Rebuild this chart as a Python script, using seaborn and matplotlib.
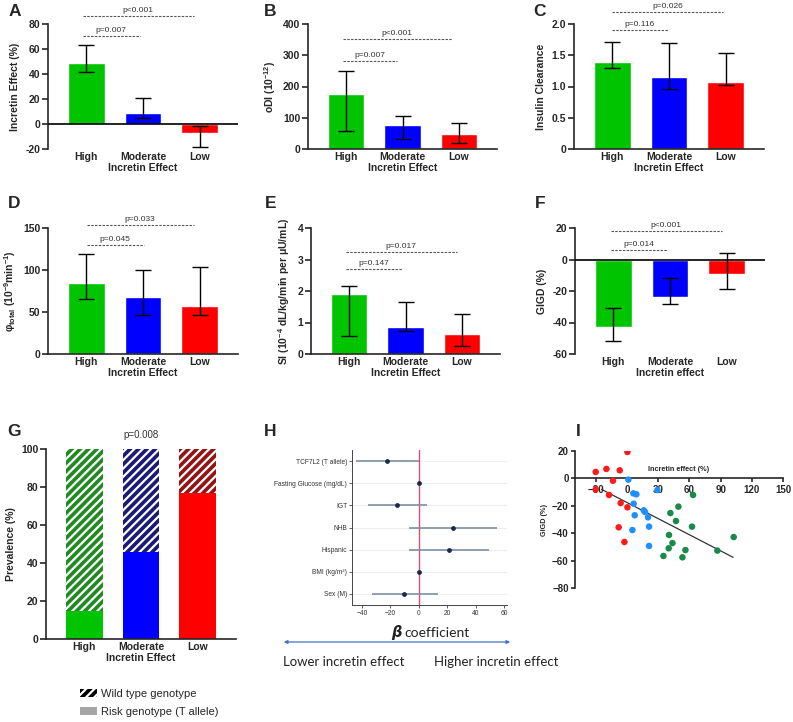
import numpy as np
import pandas as pd
import matplotlib
matplotlib.use('Agg')
import matplotlib.pyplot as plt
import seaborn as sns
from matplotlib.patches import Patch, FancyArrowPatch

sns.set_style('ticks')
plt.rcParams['font.family'] = ['Liberation Sans', 'DejaVu Sans']
plt.rcParams['mathtext.fontset'] = 'custom'
plt.rcParams['mathtext.rm'] = 'Liberation Sans:bold'
plt.rcParams['mathtext.it'] = 'Liberation Sans:bold'
plt.rcParams['mathtext.bf'] = 'Liberation Sans:bold'
plt.rcParams['hatch.linewidth'] = 1.6

# ---------------- data ----------------
groups = ['High', 'Moderate', 'Low']
bar_colors = ['#00c400', '#0000ff', '#ff0000']
wild_colors = ['#238a23', '#1a1a78', '#931414']

incretin_mean = [49, 9, -7]
incretin_lo = [42, 5, -18.5]
incretin_hi = [63, 20.5, -1.5]
incretin_p = ['p=0.007', 'p<0.001']

odi_mean = [176, 78, 49]
odi_lo = [57, 33, 18]
odi_hi = [250, 107, 84]
odi_p = ['p=0.007', 'p<0.001']

clear_mean = [1.40, 1.15, 1.07]
clear_lo = [1.29, 0.96, 1.02]
clear_hi = [1.71, 1.70, 1.54]
clear_p = ['p=0.116', 'p=0.026']

phi_mean = [84, 68, 57]
phi_lo = [65, 46, 46]
phi_hi = [119, 100, 104]
phi_p = ['p=0.045', 'p=0.033']

si_mean = [1.92, 0.85, 0.65]
si_lo = [0.56, 0.73, 0.25]
si_hi = [2.17, 1.66, 1.27]
si_p = ['p=0.147', 'p=0.017']

gigd_mean = [-43, -23.5, -9]
gigd_lo = [-52, -28.5, -18.5]
gigd_hi = [-31, -11.5, 4]
gigd_p = ['p=0.014', 'p<0.001']

risk_pct = [15, 46, 77]
total_pct = [100, 100, 100]
prev_p = 'p=0.008'

predictors = ['TCF7L2 (T allele)', 'Fasting Glucose (mg/dL)', 'IGT', 'NHB',
              'Hispanic', 'BMI (kg/m²)', 'Sex (M)']
beta = [-22.3, 0.2, -15.3, 23.9, 21.4, 0.2, -10.1]
beta_lo = [-44.1, -0.4, -35.9, -6.6, -6.6, -0.9, -33.1]
beta_hi = [-0.2, 0.8, 5.4, 55.2, 49.5, 1.3, 13.4]

red_x = [0.4, -30.1, -19.8, -7.0, -13.5, -30.1, -17.3, -6.1, 0.4, -8.0, -2.5]
red_y = [19.3, 4.7, 6.9, 5.9, -1.7, -8.0, -12.1, -18.0, -21.1, -35.7, -46.4]
blue_x = [1.3, 6.1, 9.0, 29.2, 6.4, 7.4, 16.1, 17.3, 20.2, 21.2, 5.2, 21.2]
blue_y = [-0.9, -10.9, -11.6, -8.5, -18.5, -26.9, -23.3, -24.5, -28.4, -35.2, -37.7, -49.3]
green_x = [63.5, 49.4, 41.7, 47.1, 62.5, 40.4, 102.6, 43.7, 40.1, 56.2, 86.9, 35.0, 53.3]
green_y = [-12.1, -20.6, -25.3, -31.1, -35.2, -41.3, -42.8, -47.2, -51.0, -52.3, -52.7, -56.6, -57.6]
fit_x = [-24.5, 102.0]
fit_y = [-8.0, -57.6]

# ---------------- layout helpers ----------------
W, H = 793, 722
fig = plt.figure(figsize=(W / 100, H / 100), dpi=100)


def rect(x0, y0, x1, y1):
    return [x0 / W, 1 - y1 / H, (x1 - x0) / W, (y1 - y0) / H]


def ftext(x, y, s, **kw):
    fig.text(x / W, 1 - y / H, s, **kw)


LAB = 7.5


def bar_panel(r, mean, lo, hi, ylim, yticks, ytl, ylabel, xlabel, pvals,
              brackets, zero_line=False, ylabelpad=4):
    ax = fig.add_axes(r)
    df = pd.DataFrame({'group': groups, 'value': mean})
    sns.barplot(data=df, x='group', y='value', hue='group', order=groups,
                hue_order=groups, palette=bar_colors, width=0.65, saturation=1,
                legend=False, errorbar=None, ax=ax, zorder=2)
    m, l, h = np.array(mean), np.array(lo), np.array(hi)
    ax.errorbar(np.arange(3), m, yerr=[m - l, h - m], fmt='none', ecolor='black',
                elinewidth=1, capsize=5.5, capthick=1, zorder=4)
    ax.set_xlim(-0.67, 2.67)
    ax.set_ylim(*ylim)
    ax.set_yticks(yticks)
    ax.set_yticklabels(ytl)
    sns.despine(ax=ax)
    for s in ('left', 'bottom'):
        ax.spines[s].set_linewidth(1.2)
    if zero_line:
        ax.spines['bottom'].set_visible(False)
        ax.axhline(0, color='black', lw=1.2, zorder=5)
    ax.tick_params(axis='x', length=0, pad=2.5, labelsize=LAB)
    ax.tick_params(axis='y', length=4, width=1.2, labelsize=LAB, pad=1.5)
    for t in ax.get_xticklabels() + ax.get_yticklabels():
        t.set_fontweight('bold')
    ax.set_xlabel(xlabel, fontsize=LAB, fontweight='bold', labelpad=0.5)
    ax.set_ylabel(ylabel, fontsize=LAB, fontweight='bold', labelpad=ylabelpad)
    for (x0, x1, y), lab in zip(brackets, pvals):
        ax.plot([x0, x1], [y, y], ls=(0, (2.2, 1.2)), color='#555555', lw=0.8,
                clip_on=False, zorder=6)
        ax.annotate(lab, ((x0 + x1) / 2, y), xytext=(0, 1.2),
                    textcoords='offset points', ha='center', va='bottom',
                    fontsize=6, color='#333333', annotation_clip=False)
    return ax


# A
bar_panel(rect(48, 24, 238, 149), incretin_mean, incretin_lo, incretin_hi,
          (-20, 80), [-20, 0, 20, 40, 60, 80], ['-20', '0', '20', '40', '60', '80'],
          'Incretin Effect (%)', 'Incretin Effect', incretin_p,
          [(-0.06, 0.94, 70.6), (-0.06, 1.89, 86.4)], zero_line=True)
# B
bar_panel(rect(308, 24, 497, 149), odi_mean, odi_lo, odi_hi,
          (0, 400), [0, 100, 200, 300, 400], ['0', '100', '200', '300', '400'],
          r'oDI (10$^{-12}$)', 'Incretin Effect', odi_p,
          [(-0.06, 0.91, 281.6), (-0.06, 1.87, 352)])
# C
bar_panel(rect(574, 24, 764, 149), clear_mean, clear_lo, clear_hi,
          (0, 2.0), [0, 0.5, 1.0, 1.5, 2.0], ['0', '0.5', '1.0', '1.5', '2.0'],
          'Insulin Clearance', 'Incretin Effect', clear_p,
          [(0.0, 0.98, 1.904), (0.0, 1.95, 2.19)])
# D
bar_panel(rect(48, 228, 238, 354), phi_mean, phi_lo, phi_hi,
          (0, 150), [0, 50, 100, 150], ['0', '50', '100', '150'],
          r'φ$_{\mathrm{total}}$ (10$^{-9}$min$^{-1}$)', 'Incretin Effect', phi_p,
          [(0.01, 1.01, 129.8), (0.01, 1.89, 153.6)])
# E
bar_panel(rect(311, 228, 500, 354), si_mean, si_lo, si_hi,
          (0, 4), [0, 1, 2, 3, 4], ['0', '1', '2', '3', '4'],
          r'SI (10$^{-4}$ dL/kg/min per μU/mL)', 'Incretin Effect', si_p,
          [(-0.06, 0.93, 2.70), (-0.06, 1.91, 3.24)])
# F
bar_panel(rect(575, 228, 765, 354), gigd_mean, gigd_lo, gigd_hi,
          (-60, 20), [-60, -40, -20, 0, 20], ['-60', '-40', '-20', '0', '20'],
          'GIGD (%)', 'Incretin effect', gigd_p,
          [(-0.04, 0.94, 6), (-0.04, 1.91, 18)], zero_line=True)

# G stacked prevalence
axg = fig.add_axes(rect(46, 449, 236, 639))
dfg = pd.DataFrame({'group': groups, 'total': total_pct, 'risk': risk_pct})
sns.barplot(data=dfg, x='group', y='total', hue='group', order=groups, hue_order=groups,
            palette=wild_colors, width=0.65, saturation=1, legend=False,
            errorbar=None, ax=axg)
for p in axg.patches:
    p.set_edgecolor('white')
    p.set_hatch('////')
    p.set_linewidth(0)
n0 = len(axg.patches)
sns.barplot(data=dfg, x='group', y='risk', hue='group', order=groups, hue_order=groups,
            palette=bar_colors, width=0.65, saturation=1, legend=False,
            errorbar=None, ax=axg)
for p in axg.patches[n0:]:
    p.set_linewidth(0)
axg.set_xlim(-0.67, 2.67)
axg.set_ylim(0, 100)
axg.set_yticks([0, 20, 40, 60, 80, 100])
sns.despine(ax=axg)
for s in ('left', 'bottom'):
    axg.spines[s].set_linewidth(1.2)
axg.tick_params(axis='x', length=0, pad=2.5, labelsize=LAB)
axg.tick_params(axis='y', length=4, width=1.2, labelsize=LAB, pad=1.5)
for t in axg.get_xticklabels() + axg.get_yticklabels():
    t.set_fontweight('bold')
axg.set_xlabel('Incretin Effect', fontsize=LAB, fontweight='bold', labelpad=0.5)
axg.set_ylabel('Prevalence (%)', fontsize=LAB, fontweight='bold')
axg.text(1, 107.5, prev_p, ha='center', va='center', fontsize=7, color='#333333',
         clip_on=False)
leg_handles = [Patch(facecolor='black', edgecolor='white', hatch='////', linewidth=0),
               Patch(facecolor='#a6a6a6', linewidth=0)]
fig.legend(leg_handles, ['Wild type genotype', 'Risk genotype (T allele)'],
           loc='upper left', bbox_to_anchor=(80 / W, 1 - 689 / H), frameon=False,
           fontsize=8, handlelength=1.5, handleheight=0.75, handletextpad=0.4,
           labelspacing=0.7, borderpad=0, borderaxespad=0)

# H forest plot
axh = fig.add_axes(rect(352, 450, 507, 605))
ypos = np.arange(len(predictors))
axh.hlines(ypos, beta_lo, beta_hi, color='#7b90a6', lw=1.2, zorder=2)
dfh = pd.DataFrame({'beta': beta, 'pred': predictors})
sns.scatterplot(data=dfh, x='beta', y=ypos, color='#1b2a48', s=12, linewidth=0,
                ax=axh, zorder=3)
axh.axvline(0, color='#dd4a75', lw=1, zorder=1)
axh.set_xlim(-47, 62)
axh.set_ylim(len(predictors) - 0.5, -0.5)
axh.set_yticks(ypos)
axh.set_yticklabels(predictors)
axh.set_xticks([-40, -20, 0, 20, 40, 60])
axh.grid(axis='y', color='#eeeeee', lw=0.8, zorder=0)
axh.set_axisbelow(True)
for s in ('top', 'right'):
    axh.spines[s].set_visible(False)
for s in ('left', 'bottom'):
    axh.spines[s].set_linewidth(0.7)
    axh.spines[s].set_color('#444444')
axh.tick_params(axis='both', length=2, width=0.6, color='#444444', labelsize=4.8,
                labelcolor='#333333', pad=1.5)
axh.set_xlabel('')
axh.set_ylabel('')

ftext(402, 633, 'β', fontsize=10.5, fontweight='bold', style='italic', ha='right',
      va='center', family=['DejaVu Sans'], color='#222222')
ftext(404, 633, 'coefficient', fontsize=10, ha='left', va='center',
      family=['Lato', 'DejaVu Sans'], color='#222222')
fig.patches.append(FancyArrowPatch((281 / W, 1 - 642 / H), (513 / W, 1 - 642 / H),
                                   transform=fig.transFigure, arrowstyle='<|-|>',
                                   mutation_scale=5, color='#4472c4', lw=0.9))
ftext(283, 662, 'Lower incretin effect', fontsize=9.5, ha='left', va='center',
      family=['Lato', 'DejaVu Sans'], color='#222222')
ftext(434, 662, 'Higher incretin effect', fontsize=9.5, ha='left', va='center',
      family=['Lato', 'DejaVu Sans'], color='#222222')

# I scatter
axi = fig.add_axes(rect(575, 451, 783, 588))
dfi = pd.DataFrame({
    'x': red_x + blue_x + green_x,
    'y': red_y + blue_y + green_y,
    'grp': ['Low'] * len(red_x) + ['Moderate'] * len(blue_x) + ['High'] * len(green_x)})
sns.scatterplot(data=dfi, x='x', y='y', hue='grp',
                palette={'Low': '#ff1a1a', 'Moderate': '#1e8fff', 'High': '#1a8a48'},
                s=22, linewidth=0, legend=False, ax=axi, zorder=3)
axi.plot(fit_x, fit_y, color='#333333', lw=0.9, zorder=2)
axi.set_xlim(-50, 150)
axi.set_ylim(-80, 20)
axi.set_xticks([-30, 0, 30, 60, 90, 120, 150])
axi.set_yticks([-80, -60, -40, -20, 0, 20])
axi.spines['bottom'].set_position(('data', 0))
for s in ('top', 'right'):
    axi.spines[s].set_visible(False)
for s in ('left', 'bottom'):
    axi.spines[s].set_linewidth(1.2)
axi.tick_params(axis='both', length=3, width=1.2, labelsize=7, pad=1.5)
for t in axi.get_xticklabels() + axi.get_yticklabels():
    t.set_fontweight('bold')
axi.set_xlabel('')
axi.set_ylabel('GIGD (%)', fontsize=5.2, fontweight='bold', labelpad=3)
axi.text(50, 6.5, 'Incretin effect (%)', ha='center', va='center', fontsize=5.2,
         fontweight='bold')

# panel letters
for lx, ly, L in [(15, 12, 'A'), (270, 12, 'B'), (539, 12, 'C'),
                  (14, 203, 'D'), (271, 203, 'E'), (540, 203, 'F'),
                  (14, 432, 'G'), (270, 432, 'H'), (578, 432, 'I')]:
    ftext(lx, ly, L, fontsize=12.5, fontweight='bold', ha='center', va='center')

fig.savefig('out.png', dpi=100)
